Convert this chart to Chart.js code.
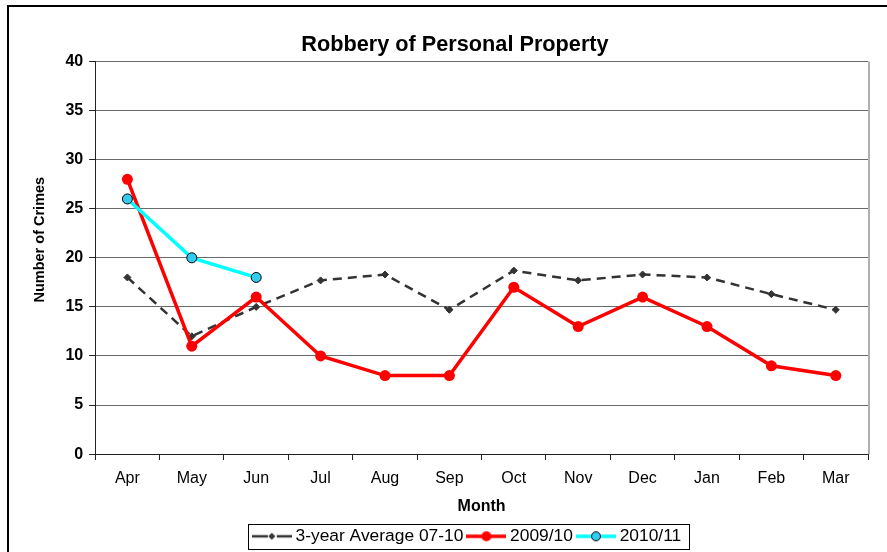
<!DOCTYPE html>
<html>
<head>
<meta charset="utf-8">
<script src="https://cdn.jsdelivr.net/npm/chart.js@4.4.0/dist/chart.umd.min.js"></script>
<style>
  html,body{margin:0;padding:0;background:#fff;overflow:hidden;width:887px;height:552px;}
  #frame{position:absolute;left:7px;top:5px;width:900px;height:600px;border:2px solid #000;}
  #wrap{position:absolute;left:0;top:0;width:887px;height:552px;}
</style>
</head>
<body>
<div id="frame"></div>
<div id="wrap"><canvas id="chart" width="887" height="552"></canvas></div>
<script>
const months = ["Apr","May","Jun","Jul","Aug","Sep","Oct","Nov","Dec","Jan","Feb","Mar"];
const avg0710 = [18, 12, 15, 17.7, 18.3, 14.7, 18.7, 17.7, 18.3, 18, 16.3, 14.7];
const y0910 = [28, 11, 16, 10, 8, 8, 17, 13, 16, 13, 9, 8];
const y1011 = [26, 20, 18];
const yTicks = [0, 5, 10, 15, 20, 25, 30, 35, 40];

const FONT = "'Liberation Sans', Arial, sans-serif";

// little legend symbols: line + marker, like the spreadsheet legend
function icon(kind) {
  const c = document.createElement("canvas");
  c.width = 40; c.height = 12;
  const g = c.getContext("2d");
  g.lineCap = "butt";
  if (kind === "avg") {
    g.strokeStyle = "#333"; g.lineWidth = 2.5;
    g.beginPath(); g.moveTo(0,6); g.lineTo(16,6); g.stroke();
    g.beginPath(); g.moveTo(25,6); g.lineTo(40,6); g.stroke();
    g.fillStyle = "#333";
    g.beginPath(); g.moveTo(20,2.5); g.lineTo(23.5,6); g.lineTo(20,9.5); g.lineTo(16.5,6); g.closePath(); g.fill();
  } else if (kind === "red") {
    g.strokeStyle = "#ff0000"; g.lineWidth = 3.5;
    g.beginPath(); g.moveTo(0,6); g.lineTo(40,6); g.stroke();
    g.fillStyle = "#ff0000";
    g.beginPath(); g.arc(20,6,5,0,Math.PI*2); g.fill();
  } else {
    g.strokeStyle = "#00ffff"; g.lineWidth = 3.5;
    g.beginPath(); g.moveTo(0,6); g.lineTo(40,6); g.stroke();
    g.fillStyle = "#33ccee"; g.strokeStyle = "#000"; g.lineWidth = 1;
    g.beginPath(); g.arc(20,6,4.5,0,Math.PI*2); g.fill(); g.stroke();
  }
  return c;
}
const icons = [icon("avg"), icon("red"), icon("cyan")];

const framePlugin = {
  id: "framePlugin",
  afterLayout(chart) {
    // spreadsheet puts title and legend a bit off centre
    const t = chart.titleBlock;
    if (t) { t.left += 16; t.right += 16; }
    const l = chart.legend;
    if (l) { l.left += 30; l.right += 30; l.top += 3; l.bottom += 3; }
  },
  afterDraw(chart) {
    const ctx = chart.ctx;
    const a = chart.chartArea;
    ctx.save();
    // right edge of the plot area
    ctx.strokeStyle = "#b0b0b0"; ctx.lineWidth = 2;
    ctx.beginPath(); ctx.moveTo(a.right + 1, a.top); ctx.lineTo(a.right + 1, a.bottom); ctx.stroke();
    // box round the legend
    const hb = chart.legend.legendHitBoxes;
    if (hb && hb.length) {
      const x0 = hb[0].left - 9, x1 = hb[hb.length-1].left + hb[hb.length-1].width + 8;
      const cy = hb[0].top + hb[0].height/2;
      ctx.strokeStyle = "#000"; ctx.lineWidth = 1;
      ctx.strokeRect(Math.round(x0)+0.5, Math.round(cy-12.5)+0.5, Math.round(x1-x0), 25);
    }
    ctx.restore();
  }
};

new Chart(document.getElementById("chart"), {
  type: "line",
  data: {
    labels: months,
    datasets: [
      {
        label: "3-year Average 07-10",
        data: avg0710,
        borderColor: "#333",
        borderWidth: 2.5,
        borderDash: [9, 6],
        pointStyle: "rectRot",
        pointRadius: 3.5,
        pointBackgroundColor: "#333",
        pointBorderColor: "#333",
        pointBorderWidth: 1,
        tension: 0,
        order: 3
      },
      {
        label: "2009/10",
        data: y0910,
        borderColor: "#ff0000",
        borderWidth: 3.5,
        pointStyle: "circle",
        pointRadius: 5.5,
        pointBackgroundColor: "#ff0000",
        pointBorderColor: "#ff0000",
        pointBorderWidth: 0,
        tension: 0,
        order: 2
      },
      {
        label: "2010/11",
        data: y1011,
        borderColor: "#00ffff",
        borderWidth: 3.5,
        pointStyle: "circle",
        pointRadius: 5,
        pointBackgroundColor: "#33ccee",
        pointBorderColor: "#000",
        pointBorderWidth: 1,
        tension: 0,
        order: 1
      }
    ]
  },
  options: {
    responsive: false,
    animation: false,
    layout: { padding: { left: 10, right: 19, top: 0, bottom: 0 } },
    plugins: {
      tooltip: { enabled: false },
      title: {
        display: true,
        text: "Robbery of Personal Property",
        color: "#000",
        font: { family: FONT, size: 21.7, weight: "bold" },
        padding: { top: 32, bottom: 3.5 }
      },
      legend: {
        position: "bottom",
        labels: {
          color: "#000",
          font: { family: FONT, size: 17.4 },
          usePointStyle: true,
          pointStyleWidth: 30,
          padding: 8,
          sort: (a, b) => a.datasetIndex - b.datasetIndex,
          generateLabels(chart) {
            const items = Chart.defaults.plugins.legend.labels.generateLabels(chart);
            return items.map(it => ({ ...it, pointStyle: icons[it.datasetIndex] }));
          }
        }
      }
    },
    scales: {
      x: {
        offset: true,
        afterFit(scale) { scale.height = 62.5; },
        border: { color: "#222", width: 1 },
        grid: { offset: true, drawOnChartArea: false, tickLength: 6, tickColor: "#222" },
        ticks: { color: "#000", padding: 9, font: { family: FONT, size: 16 } },
        title: {
          display: true, text: "Month", color: "#000",
          font: { family: FONT, size: 16, weight: "bold" },
          padding: { top: 8, bottom: 0 }
        }
      },
      y: {
        min: 0, max: 40,
        afterBuildTicks(scale) { scale.ticks = yTicks.map(v => ({ value: v })); },
        border: { color: "#222", width: 1 },
        grid: { color: "#6a6a6a", lineWidth: 1, tickLength: 6, tickColor: "#222" },
        ticks: { color: "#000", padding: 6, font: { family: FONT, size: 16, weight: "bold" } },
        title: {
          display: true,
          // leading spaces push the label up, it sits above the middle in the original
          text: "         Number of Crimes",
          color: "#000",
          font: { family: FONT, size: 14.5, weight: "bold" },
          padding: { top: 21, bottom: 11 }
        }
      }
    }
  },
  plugins: [framePlugin]
});
</script>
</body>
</html>
